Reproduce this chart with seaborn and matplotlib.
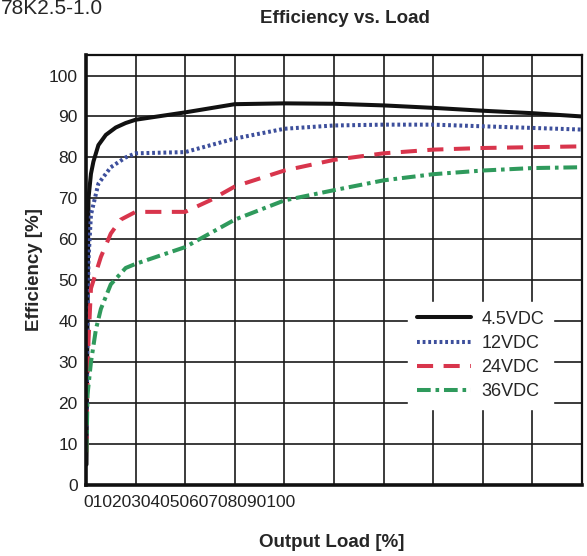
import matplotlib
matplotlib.use("Agg")
import matplotlib.pyplot as plt
import seaborn as sns
import pandas as pd

# values
load_45 = [0.1, 0.3, 0.5, 1, 1.5, 2.5, 4, 6, 8, 10, 20, 30, 40, 50, 60, 70, 80, 90, 100]
eff_45 = [5, 40, 70, 76, 79, 83, 85.5, 87.3, 88.4, 89.2, 91, 93, 93.2, 93.1, 92.7, 92.1, 91.4, 90.8, 90]

load_12 = [0.1, 0.2, 0.5, 1, 2.5, 5, 8, 10, 20, 30, 40, 50, 60, 70, 80, 90, 100]
eff_12 = [10, 30, 55, 66, 73.6, 77.6, 80, 81, 81.3, 84.6, 87, 87.8, 88, 88, 87.6, 87.2, 86.8]

load_24 = [0.1, 0.2, 0.5, 1, 3, 5, 7, 10, 20, 25, 30, 40, 50, 60, 70, 80, 90, 100]
eff_24 = [8, 20, 35, 48, 55.7, 61.4, 64.8, 66.7, 66.7, 69.5, 72.9, 76.8, 79.4, 81, 81.9, 82.3, 82.5, 82.7]

load_36 = [0.1, 0.3, 1, 2, 3, 5, 8, 10, 20, 30, 40, 50, 60, 70, 80, 90, 100]
eff_36 = [8, 22, 30, 38, 43, 49, 53, 54, 58.1, 64.8, 69.5, 72, 74.4, 75.9, 76.8, 77.4, 77.6]

series = ["4.5VDC", "12VDC", "24VDC", "36VDC"]
colors = ["#111111", "#3d4f9c", "#d8354c", "#2f9a5c"]
styles = ["-", (0, (0.7, 0.7)), (0, (4.0, 2.6)), (0, (3.4, 1.2, 0.9, 1.2))]

y_ticks = list(range(0, 101, 10))
x_grid = list(range(0, 101, 10))
x_tick_text = "".join(str(v) for v in x_grid)

sns.set_style("white")
plt.rcParams["font.family"] = ["Liberation Sans", "DejaVu Sans"]

fig = plt.figure(figsize=(5.87, 5.56), dpi=100)
ax = fig.add_axes([0.1465, 0.1277, 0.845, 0.7733])

data = [(load_45, eff_45), (load_12, eff_12), (load_24, eff_24), (load_36, eff_36)]
for (xs, ys), name, c, ls in zip(data, series, colors, styles):
    df = pd.DataFrame({"load": xs, "eff": ys})
    sns.lineplot(data=df, x="load", y="eff", ax=ax, color=c, linestyle=ls,
                 linewidth=2.9, label=name)

ax.set_xlim(0, 100)
ax.set_ylim(0, 105)
ax.set_xticks(x_grid)
ax.set_xticklabels([])
ax.set_yticks(y_ticks)
ax.tick_params(axis="both", length=0)
ax.tick_params(axis="y", labelsize=12.5, pad=6, labelcolor="#222222")
ax.grid(True, color="#1a1a1a", linewidth=1.2)
for s in ax.spines.values():
    s.set_color("#111111")
    s.set_linewidth(1.6)
ax.spines["left"].set_linewidth(2.6)
ax.spines["bottom"].set_linewidth(2.6)
ax.set_axisbelow(True)

ax.set_xlabel("")
ax.set_ylabel("Efficiency [%]", fontsize=13.5, fontweight="bold", labelpad=4)
ax.text(-0.005, -0.04, x_tick_text, transform=ax.transAxes, ha="left", va="center",
        fontsize=12.5, color="#222222")

fig.text(0.565, 0.025, "Output Load [%]", ha="center", va="center",
         fontsize=13.5, fontweight="bold")
fig.text(0.588, 0.967, "Efficiency vs. Load", ha="center", va="center",
         fontsize=13.5, fontweight="bold")
fig.text(0.002, 0.985, "78K2.5-1.0", ha="left", va="center", fontsize=15)

leg = ax.legend(loc="center left", bbox_to_anchor=(0.63, 0.301), frameon=True,
                fontsize=13, handlelength=3.0, handletextpad=0.6,
                labelspacing=0.4, borderpad=0.5)
leg.get_frame().set_edgecolor("white")
leg.get_frame().set_facecolor("white")
leg.get_frame().set_alpha(1)

fig.savefig("out.png", dpi=100)
